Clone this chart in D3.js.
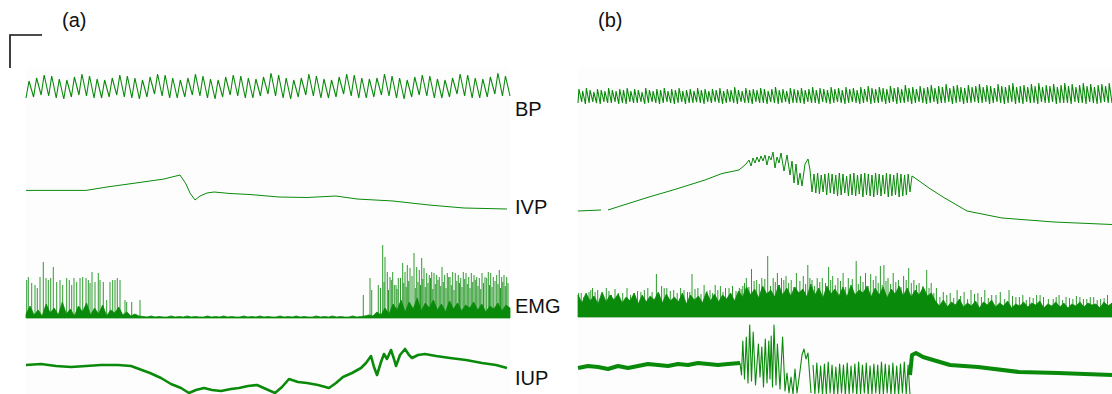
<!DOCTYPE html>
<html>
<head>
<meta charset="utf-8">
<script src="https://cdn.jsdelivr.net/npm/d3@7"></script>
<style>
  body { margin: 0; background: #fff; }
  text { font-family: "Liberation Sans", Arial, sans-serif; fill: #111; }
</style>
</head>
<body>
<svg id="chart" width="1112" height="394"></svg>
<script>
// ---- data (time in s, amplitude in arbitrary units above each trace's zero) ----

// (a) blood pressure, one peak and one trough per beat
const bpPeaksA = [19,22,25,24,21, 20,23,26,24,21, 20,22,25,24,22, 20,23,26,25,22, 20,22,26,24,21, 20,23,25,24,22,
  21,23,27,25,22, 20,22,26,24,21, 20,23,26,25,22, 21,22,26,24,22, 20,23,25,24,21, 20,22,26,25,22, 21,23,27,24];
const bpTroughsA = [2,3,5,4,2, 1,3,5,4,2, 2,3,5,3,2, 1,3,6,4,2, 2,3,5,4,2, 1,3,5,4,2,
  2,4,6,4,2, 1,3,5,4,2, 2,3,6,4,2, 2,3,5,4,2, 1,3,5,4,2, 2,3,6,4,2, 2,3,6,4];

// (b) blood pressure
const bpPeaksB = [
  16,14,17,15,13,16,15,14,17,15,14,16, 15,17,14,16,15,13,17,15,14,16,15,17,
  14,16,15,17,14,15,16,14,17,15,16,14, 16,15,17,14,16,15,18,15,14,17,15,16,
  15,17,16,14,16,18,15,16,14,17,16,15, 17,15,16,18,15,17,16,15,18,16,17,15,
  18,16,17,15,18,16,19,17,16,18,17,16, 19,17,18,16,20,17,18,16,19,17,18,20,
  17,19,18,21,17,19,20,18,17,20,18,19, 21,18,20,19,17,21,19,18,20,22,18,19,
  20,18,21,19,22,18,20,19,21,18,20,22, 19,21,18,20,22,19,21,18,20,21,19,22];
const bpTroughsB = [
  2,3,1,2,3,2,1,3,2,2,3,1, 2,1,3,2,2,3,1,2,3,2,1,2, 3,2,1,2,3,1,2,2,3,2,1,3,
  2,3,2,1,2,3,2,1,3,2,2,1, 3,2,2,1,3,2,1,2,3,1,2,2, 2,1,3,2,2,1,3,2,1,2,3,2,
  1,2,3,2,1,2,3,1,2,2,3,1, 2,3,1,2,2,3,1,2,3,2,1,2, 3,1,2,2,3,1,2,3,1,2,2,3,
  2,2,3,1,2,3,2,1,2,3,1,2, 1,3,2,2,1,3,2,2,3,1,2,2, 2,1,3,2,2,1,3,2,1,2,3,2];

// (a) intravesical pressure [t, value]
const ivpA = [[0,24.6],[60,24.6],[81,28],[117,33],[138,36],[154,40],[160,31],[164,22],[169,15],
  [174,19],[181,22],[188,23],[204,21.5],[224,20.5],[253,18],[281,17.5],[310,19],[331,16],
  [367,14],[403,10],[438,7],[481,6]];

// (b) intravesical pressure: rise, irregular burst, regular oscillation, fall
const ivpRiseB = [[0,15],[23,16],null,[30,16],[44,20.5],[71,29],[95,36],[127,46],[144,52.5],[161,56],[168,62],
  [171,66],[173,60],[175,68],[177,63],[179,69],[181,64],[183,70],[185,65],[187,71],[189,61],[191,70],
  [193,66],[195,74],[197,58],[199,69],[201,63],[203,73],[206,55],[209,71],[212,51],[214,65],[216,43],
  [218,62],[220,41],[222,53],[224,40],[227,62],[230,67],[232,56],[234,34]];
const ivpOscB = [52,33,53,32,51,34,52,31,53,33,52,32,51,30,53,31,52,33,50,30,52,31,53,30,51,32,52,29,
  53,31,52,30,51,29,53,31,52,30,51,32,53,29,52,30,51,31,53,29,52,30,51,31,52,34];
const ivpOscSpanB = [236, 332];
const ivpFallB = [[334,50],[337,48],[351,38],[365,29],[389,15],[424,8],[476,4],[534,1.5]];

// (a) EMG: dense body envelope (even spacing) and single spikes
const emgBodyA = [4,12,3,8,2,14,5,10,3,16,4,9,2,12,6,15,3,10,4,13,2,8,5,11,3,6,2,4,2,
  1.5,1,2,1,1.5,1,1,2,1,1.5, 1,2,1,1.5,1,1,2,1,1.5,1, 2,1,1.5,1,1,2,1,1.5,1,2,
  1,1.5,1,1,2,1,1.5,1,2,1, 1.5,1,1,2,1,1.5,1,2,1,1.5, 1,1,2,1,1.5,
  2,3,2,6,3,10,4,14,8,18,6,16,9,20,7,15,10,18,8,14,6,17,9,15,7,13,10,16,8,14,6,12,9,15,7,13,10];
const emgSpikeTA = [0.7,2.3,5.7,9,11.3,14,17.3,20,22.3,24.7,27.3,30.7,34,36.7,40.7,43.3,45.7,48,50.7,54,
  56.7,60,62.3,64,66,69,72.3,74,77.3,80.7,84,86.7,89,91.3,94,99,100.7,105.7,114,
  337.3,344,345.7,352.3,356.7,359,361.3,364,366.7,370,372.3,376.7,379,381.3,384,388,390.7,393.3,395.7,398,
  400.7,403.3,405.7,408,410.7,413.3,416,418.7,421.3,424,426.7,429.3,432.3,434.7,437.3,440,442.7,445.3,448,450.7,
  453.3,456,459,462.3,464.7,467.3,470.7,473.3,475.7,478,480.7];
const emgSpikeHA = [38,41,35,33,30,41,56,40,38,40,51,36,38,33,40,38,33,40,36,40,
  41,40,38,35,46,36,45,38,36,18,36,38,38,40,38,18,16,16,18,
  23,40,28,33,73,61,46,41,46,33,40,55,46,53,50,65,51,48,60,50,
  45,43,46,45,43,41,51,43,45,41,46,45,43,40,46,45,41,45,43,41,
  40,45,41,46,45,41,43,48,41,43,41];
const emgFineTA = [354.5,358,362.5,365.3,368.3,371,374.5,377.8,380.2,382.7,386,389.3,392,394.5,396.8,399.3,
  402,404.5,406.8,409.3,412,414.7,417.3,420,422.7,425.3,428,430.8,433.5,436,438.7,441.3,444,446.7,449.3,
  452,454.7,457.5,460.7,463.5,466,469,472,474.5,476.8,479.3,482];
const emgFineHA = [30,36,28,38,33,29,40,35,31,37,42,30,36,33,39,31,35,40,29,34,38,32,36,30,41,33,28,37,35,31,
  39,34,30,36,38,32,29,35,40,33,31,37,34,30,36,32,35];

// (b) EMG
const emgBodyB = [22,14,24,16,21,13,25,15,22,17,23,14,20,16,24,13,22,15,21,17,25,14,23,16,20,15,24,13,22,17,
  21,14,25,16,23,15,22,18,24,16,26,
  20,30,22,28,19,31,23,27,20,32,22,29,21,30,24,28,20,33,22,29,19,31,23,28,21,30,20,32,22,27,
  24,31,20,29,22,30,19,28,23,31,21,29,20,27,22,30,21,24,
  16,11,17,10,15,12,18,10,14,11,16,9,15,12,17,10,14,11,16,9,13,11,15,10,14,12,16,9,13,11,
  15,10,14,9,13,11,15,10,14,12,13,9,15,11,14];
const emgSpikeTB = [0.6,5.8,11,14.5,19.7,28.3,33.5,40.4,49,56,62.9,69.8,78.4,83.6,88.8,95.7,102.6,109.5,114,119.9,
  126.1,132,137.2,142.4,147.5,154.5,161.4,164.8,168.3,173.5,178.7,183.8,189.7,195.2,199.4,203.5,208,213.2,218.4,225.3,
  229.8,234,239.2,244.3,250.6,254.7,259.9,265.1,270.3,278.2,282.4,287.5,292.7,297.9,302.4,305.9,310,315.2,320.4,325.6,
  330.7,335.9,341.1,348.7,353.2,358.4,365.3,372.2,379.1,386.1,393,399.9,406.8,413.7,422.3,431,437.9,444.8,451.7,458.6,
  465.5,475.2,481.1,488,494.9,501.9,508.8,515.7,522.6,529.5];
const emgSpikeHB = [24,20,25,29,27,29,22,24,29,24,25,29,43,31,29,27,29,25,43,29,
  32,27,32,31,29,31,29,31,39,48,37,39,61,39,44,39,41,37,44,41,
  52,37,39,39,50,41,39,44,39,56,41,44,43,41,51,52,39,44,37,41,
  49,37,34,47,34,29,25,24,27,25,27,24,27,22,25,27,20,22,20,22,
  20,18,22,20,18,20,18,20,18,22];
const emgFineTB = [3.2,8.4,12.8,17.1,24,30.9,37,44.7,52.5,59.5,66.4,74.1,81,86.2,92.3,99.2,106,111.8,117,123,
  129,134.6,139.8,145,151,158,163.1,166.5,170.9,176.1,181.3,186.8,192.5,197.3,201.5,205.8,210.6,215.8,221.9,227.6,
  231.9,236.6,241.8,247.5,252.7,257.3,262.5,267.7,274.3,280.3,285,290.1,295.3,300.2,304.2,308,312.6,317.8,323,328.2,
  333.3,338.5,344.9,351,355.8,361.9,368.8,375.7,382.6,389.6,396.5,403.4,410.3,418,426.7,434.5,441.4,448.3,455.2,462.1,
  470.4,478.2,484.6,491.5,498.4,505.4,512.3,519.2,526.1];
const emgFineHB = [24,22,27,25,23,26,28,24,22,26,27,25,23,29,26,24,27,25,28,23,26,24,27,25,29,26,28,
  34,30,36,33,38,31,35,32,37,34,30,36,33,39,31,35,34,37,32,36,30,38,33,35,31,37,34,32,36,33,35,30,37,34,32,31,29,
  24,20,22,19,21,18,23,20,19,22,18,21,20,17,19,22,18,20,17,19,21,18,20,17,19];

// (a) intraurethral pressure [t, value]
const iupA = [[0,30],[15,31],[30,29],[45,28],[60,29],[75,30],[92,30],[105,29],[124,22],[135,17],[145,11],
  [155,7],[163,2],[170,5],[178,7],[186,5],[195,4],[205,6],[213,7],[222,9],[231,10],[240,6],[249,2],
  [256,8],[263,16],[272,13],[281,12],[292,10],[303,7],[310,12],[317,18],[326,22],[335,27],[340,32],
  [345,39],[348,28],[351,20],[355,33],[358,41],[361,36],[365,45],[368,36],[370,29],[374,40],[379,46],
  [383,40],[386,37],[392,40],[399,41],[410,39],[424,37],[440,35],[456,32],[470,30],[481,27]];

// (b) intraurethral pressure
const iupQuietB = [[0,27],[10,29],[20,28],[30,26],[40,29],[50,27],[60,29],[70,31],[80,30],[90,29],
  [100,31],[110,30],[120,32],[130,31],[140,30],[150,31],[162,32]];
const iupBurstB = [[162,32],[163.5,20],[164.8,54],[166.5,16],[168.3,58],[170,12],[171.7,70],[173.5,14],
  [175.2,63],[177.5,10],[180.4,51],[182,18],[183.8,48],[185.5,8],[187.3,56],[189,12],[190.8,54],[192,16],
  [193.2,59],[194.5,8],[196,70],[198,10],[199.4,51],[202,6],[204.6,58],[207,4],[209,22],[211,2],[213,18],
  [215,1],[217,26],[219,2],[222,24],[224,40],[226,46],[228,36],[230,42],[233,2]];
const iupOscB = [30,1,32,2,29,0,31,1,33,2,30,0,28,1,31,2,30,0,32,1,29,2,31,0,33,1,30,2,32,0,29,1,31,2,
  30,0,33,1,31,2,30,0,32,1,29,0,31,2,33,1,30,0];
const iupOscSpanB = [235, 332];
const iupFallB = [[332,20],[334,40],[338,42],[345,38],[372,30],[400,28],[441,23],[480,22],[534,20]];

const traceLabels = ['BP', 'IVP', 'EMG', 'IUP'];
const panelLabels = ['(a)', '(b)'];

// ---- helpers ----
function cycles(peaks, troughs, t0, t1, rise) {
  const n = peaks.length, T = (t1 - t0) / n, pts = [];
  for (let i = 0; i < n; i++) {
    pts.push([t0 + i * T, troughs[i]]);
    pts.push([t0 + (i + rise) * T, peaks[i]]);
  }
  pts.push([t1, troughs[n - 1]]);
  return pts;
}
function spread(vals, t0, t1) {
  const k = (t1 - t0) / (vals.length - 1);
  return vals.map((v, i) => [t0 + i * k, v]);
}

// ---- layout ----
const green = '#0a8a0a';
const svg = d3.select('#chart');

const panels = [
  { x0: 26, x1: 510, dur: 484, labelX: 62, bases: [100, 215, 318, 395],
    bp: cycles(bpPeaksA, bpTroughsA, 0, 484, 0.4),
    ivp: [ivpA],
    emgBody: emgBodyA, spikes: d3.zip(emgSpikeTA, emgSpikeHA).concat(d3.zip(emgFineTA, emgFineHA)),
    iup: [{ pts: iupA, w: 2.6 }] },
  { x0: 578, x1: 1112, dur: 534, labelX: 598, bases: [105, 226, 317, 395],
    bp: cycles(bpPeaksB, bpTroughsB, 0, 534, 0.25),
    ivp: [ivpRiseB, spread(ivpOscB, ivpOscSpanB[0], ivpOscSpanB[1]), ivpFallB],
    emgBody: emgBodyB, spikes: d3.zip(emgSpikeTB, emgSpikeHB).concat(d3.zip(emgFineTB, emgFineHB)),
    iup: [{ pts: iupQuietB, w: 4.2 }, { pts: iupBurstB, w: 1.1 },
          { pts: spread(iupOscB, iupOscSpanB[0], iupOscSpanB[1]), w: 1.1 }, { pts: iupFallB, w: 4 }] }
];

panels.forEach((p, pi) => {
  const x = d3.scaleLinear().domain([0, p.dur]).range([p.x0, p.x1]);
  const yOf = base => d3.scaleLinear().domain([0, 80]).range([base, base - 80]);
  const g = svg.append('g');

  g.append('rect')
    .attr('x', p.x0).attr('y', 67)
    .attr('width', p.x1 - p.x0).attr('height', 327)
    .attr('fill', '#fdfdfd');

  g.append('text')
    .attr('x', p.labelX).attr('y', 27)
    .attr('font-size', 20)
    .text(panelLabels[pi]);

  const lineFor = y => d3.line().defined(d => d !== null).x(d => x(d[0])).y(d => y(d[1]));

  // BP
  const yBP = yOf(p.bases[0]);
  g.append('path').datum(p.bp)
    .attr('d', lineFor(yBP))
    .attr('fill', 'none').attr('stroke', green).attr('stroke-width', 1.1);

  // IVP
  const yIVP = yOf(p.bases[1]);
  const ivpPts = p.ivp.reduce((acc, s) => acc.concat(s), []);
  g.append('path').datum(ivpPts)
    .attr('d', lineFor(yIVP))
    .attr('fill', 'none').attr('stroke', green).attr('stroke-width', 1);

  // EMG
  const yE = yOf(p.bases[2]);
  g.selectAll('line.spike')
    .data(p.spikes)
    .join('line')
    .attr('class', 'spike')
    .attr('x1', d => x(d[0])).attr('x2', d => x(d[0]))
    .attr('y1', yE(0)).attr('y2', d => yE(d[1]))
    .attr('stroke', green).attr('stroke-width', 1).attr('stroke-opacity', 0.85);
  g.append('path').datum(spread(p.emgBody, 0, p.dur))
    .attr('d', d3.area().x(d => x(d[0])).y0(yE(0)).y1(d => yE(d[1])))
    .attr('fill', green).attr('stroke', green).attr('stroke-width', 0.8);

  // IUP
  const yIUP = yOf(p.bases[3]);
  p.iup.forEach(s => {
    g.append('path').datum(s.pts)
      .attr('d', lineFor(yIUP))
      .attr('fill', 'none').attr('stroke', green)
      .attr('stroke-width', s.w).attr('stroke-linejoin', 'round');
  });
});

// trace names between the panels
const labelY = [116, 214, 312.5, 385];
svg.selectAll('text.trace')
  .data(traceLabels)
  .join('text')
  .attr('class', 'trace')
  .attr('x', 515)
  .attr('y', (d, i) => labelY[i])
  .attr('font-size', 20)
  .text(d => d);

// calibration corner
svg.append('path')
  .attr('d', d3.line()([[10, 68], [10, 35], [42, 35]]))
  .attr('fill', 'none').attr('stroke', '#111').attr('stroke-width', 1.6);
</script>
</body>
</html>
